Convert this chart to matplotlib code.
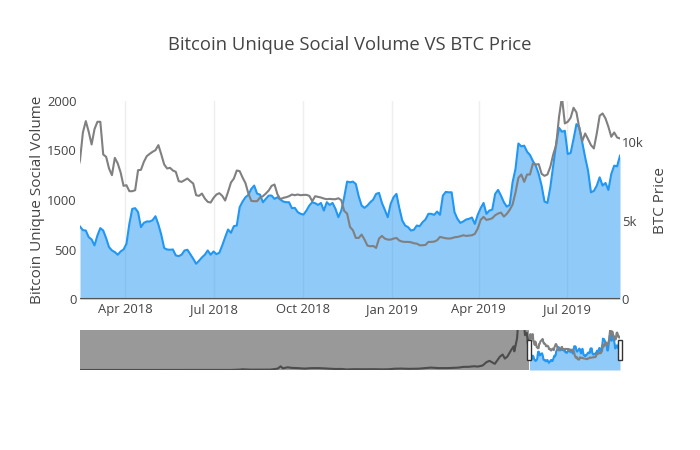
import matplotlib
matplotlib.use("Agg")
import matplotlib.pyplot as plt
import matplotlib.dates as mdates
import matplotlib.transforms as mtransforms
from matplotlib.patches import Rectangle
from matplotlib.ticker import FixedLocator, FixedFormatter
import pandas as pd

plt.rcParams['font.family'] = ['Open Sans', 'DejaVu Sans']

title = "Bitcoin Unique Social Volume VS BTC Price"
y1_title = "Bitcoin Unique Social Volume"
y2_title = "BTC Price"

start_date = "2018-02-13"
step_days = 3

social_volume = [
    733, 697, 693, 626, 603, 543, 643, 717, 693, 616, 526, 492, 476, 449, 482, 502,
    559, 760, 911, 918, 878, 727, 770, 784, 784, 797, 837, 754, 650, 516, 502, 499,
    502, 442, 435, 449, 492, 499, 455, 409, 358, 388, 422, 449, 492, 449, 482, 455,
    469, 543, 626, 703, 670, 737, 743, 928, 985, 1028, 1052, 1112, 1146, 1065, 1055, 978,
    1012, 1045, 1045, 1012, 1028, 1005, 985, 978, 978, 918, 921, 878, 861, 854, 894, 945,
    978, 968, 951, 971, 894, 978, 951, 971, 911, 827, 894, 1028, 1186, 1179,
    1186, 1162, 1038, 945, 921, 945, 978, 1005, 1062, 1072, 971, 901, 827, 961, 1028, 1062,
    918, 794, 743, 727, 693, 700, 743, 737, 777, 804, 861, 861, 851, 884, 851, 1045,
    1082, 1078, 1078, 878, 811, 770, 784, 804, 811, 824, 760, 851, 918, 971,
    861, 894, 904, 1062, 1102, 1045, 978, 934, 951, 1179, 1313, 1570, 1541, 1548, 1487, 1454,
    1393, 1346, 1263, 1145, 985, 971, 1129, 1346, 1564, 1728, 1688, 1698, 1464, 1474, 1615, 1765,
    1732, 1581, 1430, 1296, 1078, 1092, 1145, 1229, 1146, 1172, 1102, 1263, 1346, 1340, 1447,
]

btc_price = [
    8867, 10633, 11356, 10675, 9867, 10845, 11313, 11313, 9229, 9080, 8336, 7910, 9016, 8655, 8080, 7229,
    7272, 6889, 6889, 6953, 8229, 8251, 8761, 9123, 9271, 9399, 9505, 9825, 9229, 8591, 8336, 8378,
    8208, 8123, 7527, 7485, 7591, 7698, 7527, 7378, 6634, 6591, 6740, 6421, 6209, 6166, 6464, 6677,
    6762, 6591, 6294, 6847, 7442, 7697, 8208, 8165, 7761, 7400, 6740, 6272, 6251, 6251, 6485, 6570,
    6740, 6932, 7229, 7315, 6698, 6379, 6464, 6506, 6570, 6677, 6634, 6677, 6634, 6655, 6655, 6591,
    6251, 6570, 6527, 6485, 6421, 6379, 6400, 6379, 6379, 6442, 6315, 5634, 5464, 4613,
    4401, 3911, 3911, 4124, 3805, 3422, 3380, 3401, 3273, 3869, 4039, 3869, 3805, 3805, 3869, 3911,
    3741, 3677, 3656, 3656, 3635, 3571, 3550, 3444, 3444, 3465, 3656, 3656, 3677, 3763, 3975, 3933,
    3890, 3869, 3890, 3954, 3975, 4018, 4082, 4039, 4060, 4082, 4167, 4507, 5060, 5252,
    5060, 5103, 5167, 5358, 5464, 5528, 5273, 5443, 5698, 6039, 6804, 7740, 7953, 7485, 7953, 7953,
    8655, 8591, 8612, 7995, 7868, 7953, 8442, 9229, 9825, 11632, 12900, 11207, 11313, 11569, 12207, 11909,
    10888, 10080, 10569, 10207, 9825, 9612, 10569, 11696, 11845, 11526, 10994, 10356, 10633, 10314, 10250,
]

# earlier BTC price history (only visible in the range slider)
hist_dates = [
    "2010-07-17", "2010-09-01", "2010-11-01", "2011-01-01", "2011-03-01", "2011-05-01", "2011-06-08",
    "2011-08-01", "2011-10-01", "2011-12-01", "2012-03-01", "2012-06-01", "2012-09-01", "2012-12-01",
    "2013-02-01", "2013-04-01", "2013-04-10", "2013-06-01", "2013-08-01", "2013-10-01", "2013-11-15",
    "2013-12-04", "2013-12-18", "2014-01-15", "2014-02-10", "2014-03-15", "2014-05-01", "2014-06-15",
    "2014-08-01", "2014-09-15", "2014-11-01", "2014-12-15", "2015-01-14", "2015-03-01", "2015-05-01",
    "2015-07-01", "2015-08-25", "2015-10-01", "2015-11-04", "2015-12-15", "2016-02-01", "2016-04-01",
    "2016-06-17", "2016-08-01", "2016-10-01", "2016-12-01", "2017-01-05", "2017-02-01", "2017-03-10",
    "2017-04-01", "2017-05-01", "2017-05-25", "2017-06-12", "2017-07-15", "2017-08-15", "2017-09-01",
    "2017-09-15", "2017-10-01", "2017-10-20", "2017-11-08", "2017-11-12", "2017-11-29", "2017-12-07",
    "2017-12-17", "2017-12-22", "2018-01-06", "2018-01-17", "2018-01-28", "2018-02-06", "2018-02-10",
]
hist_price = [
    0.05, 0.06, 0.2, 0.3, 0.9, 3.5, 29, 13, 5, 3, 5, 5.5, 10, 13,
    20, 140, 230, 110, 105, 125, 420, 1150, 520, 850, 680, 600, 450, 600,
    590, 470, 330, 330, 180, 265, 235, 255, 210, 240, 400, 450, 370, 420,
    760, 600, 610, 750, 1000, 1000, 1190, 1080, 1420, 2500, 2900, 1950, 4200, 4900,
    3600, 4300, 6000, 7500, 5900, 10000, 16000, 19300, 13800, 17100, 11000, 11800, 6900, 8100,
]

y1_ticks = [0, 500, 1000, 1500, 2000]
y2_ticks = [0, 5000, 10000]
y2_labels = ["0", "5k", "10k"]
y1_max = 2000
y2_max = 12650

dates = pd.date_range(start_date, periods=len(social_volume), freq=f"{step_days}D")
all_dates = pd.to_datetime(hist_dates).append(dates)
all_price = hist_price + btc_price

BLUE = "#2196F3"
GRAY = "#808080"
TXT = "#444444"
W, H = 700, 450
TICK_FS = 9.4
AXT_FS = 11.0
TITLE_FS = 13.3

fig = plt.figure(figsize=(W / 100, H / 100), dpi=100)
fig.patch.set_facecolor("white")

# ---- main plot ----
ax = fig.add_axes([80 / W, 150.7 / H, 540 / W, 198.5 / H])
ax2 = ax.twinx()

ax.fill_between(dates, social_volume, 0, color=BLUE, alpha=0.5, lw=0, zorder=2)
ax.plot(dates, social_volume, color=BLUE, lw=1.5, zorder=3)
ax.axhline(0, color="#555555", lw=1.5, zorder=4)
ax2.plot(all_dates, all_price, color=GRAY, lw=1.5)

ax.set_xlim(dates[0], dates[-1])
ax.set_ylim(0, y1_max)
ax2.set_ylim(0, y2_max)

ax.xaxis.set_major_locator(mdates.MonthLocator(bymonth=[1, 4, 7, 10]))
ax.xaxis.set_major_formatter(mdates.DateFormatter("%b %Y"))
ax.xaxis.grid(True, color="#eeeeee", lw=1)
ax.yaxis.grid(False)
ax.set_axisbelow(True)

ax.yaxis.set_major_locator(FixedLocator(y1_ticks))
ax2.yaxis.set_major_locator(FixedLocator(y2_ticks))
ax2.yaxis.set_major_formatter(FixedFormatter(y2_labels))

for a in (ax, ax2):
    for s in a.spines.values():
        s.set_visible(False)
ax.tick_params(axis="x", length=0, labelsize=TICK_FS, colors=TXT, pad=2.6)
ax.tick_params(axis="y", length=0, labelsize=TICK_FS, colors=TXT, pad=2.4)
ax2.tick_params(axis="y", length=0, labelsize=TICK_FS, colors=TXT, pad=1.3)

fig.text(0.5, 1 - 45 / H, title, ha="center", va="center", fontsize=TITLE_FS, color=TXT)
fig.text(38 / W, 1 - 200 / H, y1_title, ha="center", va="center", rotation=90,
         fontsize=AXT_FS, color=TXT)
fig.text(660 / W, 1 - 200 / H, y2_title, ha="center", va="center", rotation=90,
         fontsize=AXT_FS, color=TXT)

# ---- range slider ----
sax = fig.add_axes([80 / W, 80 / H, 540 / W, 40 / H])
sax2 = sax.twinx()
sax.fill_between(dates, social_volume, 0, color=BLUE, alpha=0.5, lw=0)
sax.plot(dates, social_volume, color=BLUE, lw=1.5)
sax2.plot(all_dates, all_price, color=GRAY, lw=1.5, zorder=2)
sax.set_xlim(all_dates[0], dates[-1])
sax.set_ylim(0, y1_max)
sax2.set_ylim(0, y2_max)
for a in (sax, sax2):
    a.set_xticks([])
    a.set_yticks([])
    for s in a.spines.values():
        s.set_visible(False)

sax2.axvspan(all_dates[0], dates[0], color="black", alpha=0.4, lw=0, zorder=5)

x0n, x1n = sax.get_xlim()
days_per_px = (x1n - x0n) / 540.0
trans = mtransforms.blended_transform_factory(sax2.transData, sax2.transAxes)
for d in (dates[0], dates[-1]):
    xn = mdates.date2num(d)
    sax2.add_patch(Rectangle((xn - 2 * days_per_px, 0.25), 4 * days_per_px, 0.5,
                             transform=trans, facecolor="white", edgecolor="#333333",
                             lw=1, clip_on=False, zorder=6))

fig.savefig("out.png", dpi=100, facecolor="white")
